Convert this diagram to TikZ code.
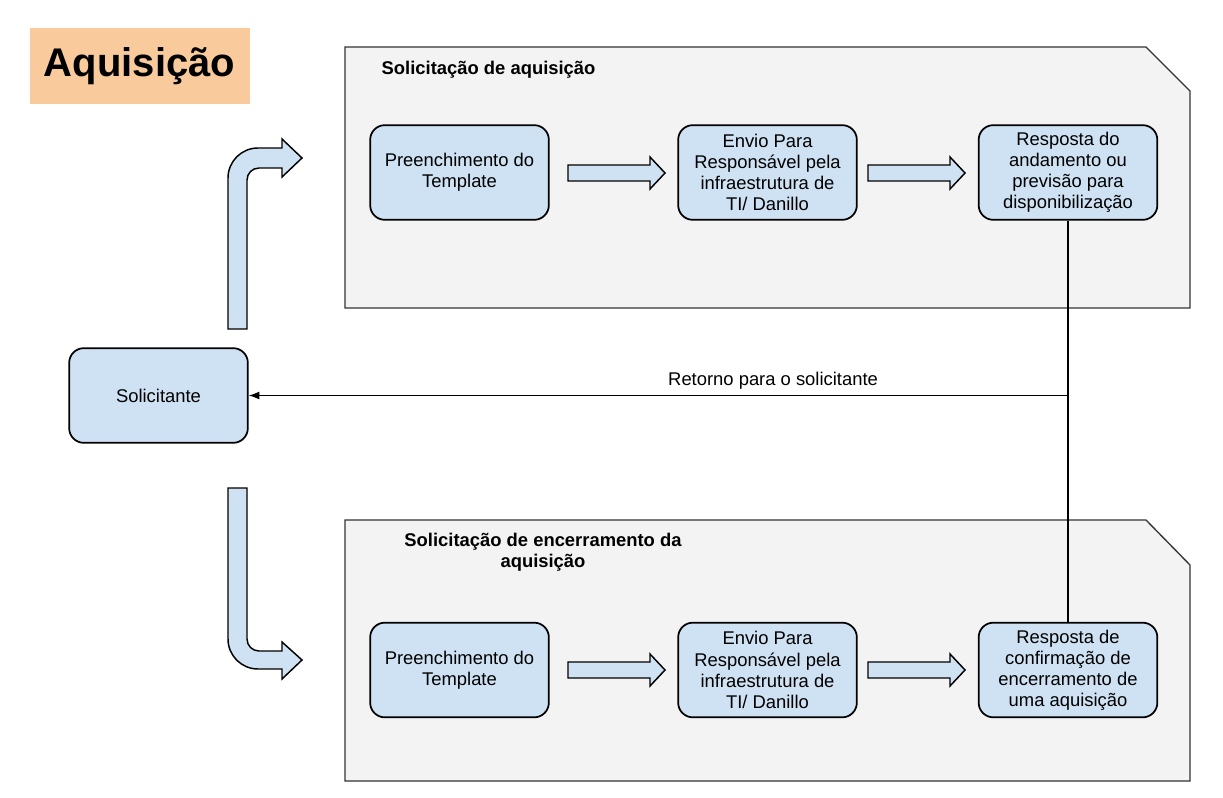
\documentclass[tikz,border=0pt]{standalone}
\usepackage{fontspec}
\setmainfont{Liberation Sans}
\usetikzlibrary{arrows.meta}
\definecolor{boxblue}{HTML}{CFE2F3}
\definecolor{panelgray}{HTML}{F3F3F3}
\definecolor{titleorange}{HTML}{F9CB9C}
\tikzset{
  stepbox/.style={draw=black, line width=1.3pt, fill=boxblue, rounded corners=11pt,
    minimum width=134pt, minimum height=71pt, align=center,
    font=\fontsize{13.8}{15.8}\selectfont, inner sep=2pt},
  panel/.style={draw=black!80, line width=1pt, fill=panelgray},
  blockarrow/.style={draw=black, line width=1.1pt, fill=boxblue, line join=miter},
  paneltitle/.style={font=\fontsize{13.8}{15.8}\selectfont\bfseries, align=center},
  conn/.style={draw=black, line width=1pt},
}
\begin{document}
\begin{tikzpicture}[x=0.75pt,y=-0.75pt]
\useasboundingbox (0,0) rectangle (1223,798);
% title
\node[fill=titleorange, minimum width=165pt, minimum height=57pt, inner sep=0pt,
  font=\fontsize{30}{34}\selectfont\bfseries] (title) at (139.5,66) {Aquisição};
% panels
\path[panel] (345,47) -- (1146,47) -- (1190,91) -- (1190,308) -- (345,308) -- cycle;
\path[panel] (345,520) -- (1146,520) -- (1190,565) -- (1190,781) -- (345,781) -- cycle;
\node[paneltitle, anchor=west] (t1) at (377,70) {Solicitação de aquisição};
\node[paneltitle] (t2) at (543,552) {Solicitação de encerramento da\\aquisição};
% boxes top
\node[stepbox] (a1) at (459.5,172.5) {Preenchimento do\\Template};
\node[stepbox] (a2) at (767.5,172.5) {Envio Para\\Responsável pela\\infraestrutura de\\TI/ Danillo};
\node[stepbox] (a3) at (1068,172.5) {Resposta do\\andamento ou\\previsão para\\disponibilização};
% boxes bottom
\node[stepbox] (b1) at (459.5,670) {Preenchimento do\\Template};
\node[stepbox] (b2) at (767.5,670) {Envio Para\\Responsável pela\\infraestrutura de\\TI/ Danillo};
\node[stepbox] (b3) at (1068,670) {Resposta de\\confirmação de\\encerramento de\\uma aquisição};
% solicitante
\node[stepbox] (sol) at (158.5,395.5) {Solicitante};
% small block arrows
\foreach \dx/\dy in {0/0, 300/0, 0/497, 300/497}{
  \path[blockarrow] (568+\dx,165+\dy) -- (650+\dx,165+\dy) -- (650+\dx,157+\dy) -- (665+\dx,173+\dy)
    -- (650+\dx,189+\dy) -- (650+\dx,181+\dy) -- (568+\dx,181+\dy) -- cycle;
}
% bent arrows
\path[blockarrow] (228,329) -- (228,178) arc[start angle=180,end angle=270,radius=30]
  -- (282,148) -- (282,139) -- (302,158) -- (282,177) -- (282,168) -- (259,168)
  arc[start angle=270,end angle=180,radius=12] -- (247,329) -- cycle;
\path[blockarrow] (228,488) -- (228,639) arc[start angle=180,end angle=90,radius=30]
  -- (282,669) -- (282,679) -- (302,660) -- (282,642) -- (282,651) -- (259,651)
  arc[start angle=90,end angle=180,radius=12] -- (247,488) -- cycle;
% connectors
\draw[conn] (a3.south) -- (b3.north);
\coordinate (j) at (1068,395.5);
\draw[conn, -{Latex[length=8pt,width=6pt]}] (j) -- (sol.east)
  node[pos=0.36, above=1pt, font=\fontsize{13.8}{15.8}\selectfont] (lbl) {Retorno para o solicitante};
\end{tikzpicture}
\end{document}
